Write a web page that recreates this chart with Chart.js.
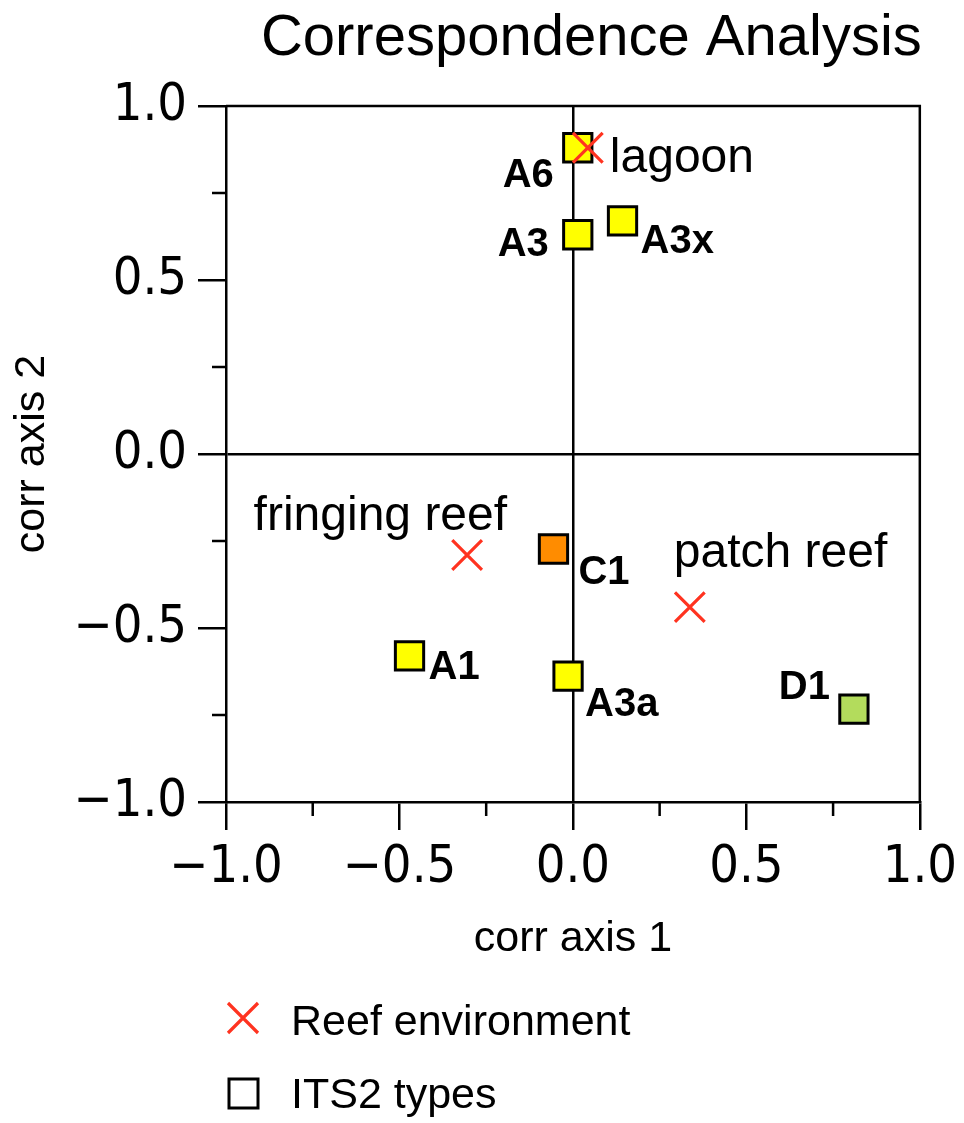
<!DOCTYPE html>
<html><head><meta charset="utf-8">
<script src="https://cdn.jsdelivr.net/npm/chart.js@4/dist/chart.umd.min.js"></script>
<style>html,body{margin:0;padding:0;background:#fff}#wrap{width:964px;height:1123px;position:relative}</style>
</head><body><div id="wrap"><canvas id="c"></canvas></div>
<script>
// ---- data ----
const chartTitle = 'Correspondence Analysis';
const xAxisTitle = 'corr axis 1';
const yAxisTitle = 'corr axis 2';
const tickValues = [-1.0, -0.5, 0.0, 0.5, 1.0];
const minorTickValues = [-0.75, -0.25, 0.25, 0.75];
const itsNames = ['A6', 'A3', 'A3x', 'C1', 'A1', 'A3a', 'D1'];
const itsX = [0.014, 0.014, 0.143, -0.056, -0.471, -0.014, 0.81];
const itsY = [0.88, 0.63, 0.67, -0.273, -0.58, -0.638, -0.733];
const reefNames = ['lagoon', 'fringing reef', 'patch reef'];
const reefX = [0.043, -0.305, 0.337];
const reefY = [0.88, -0.29, -0.44];
const legendLabels = ['Reef environment', 'ITS2 types'];

// ---- styles ----
const itsColors = ['#ffff00', '#ffff00', '#ffff00', '#ff8c00', '#ffff00', '#ffff00', '#b3dc5c'];
const reefColor = '#ff3320';
const itsLabelPos = [
  {dx: -24, dy: 28, align: 'right'},
  {dx: -29, dy: 10, align: 'right'},
  {dx: 18, dy: 21, align: 'left'},
  {dx: 25, dy: 24, align: 'left'},
  {dx: 19, dy: 12, align: 'left'},
  {dx: 17, dy: 29, align: 'left'},
  {dx: -24, dy: -21, align: 'right'}
];
const reefLabelPos = [
  {dx: 22, dy: 24, align: 'left'},
  {dx: 40, dy: -25, align: 'right'},
  {dx: -16, dy: -40, align: 'left'}
];
const SANS = '"Liberation Sans", Arial, Helvetica, sans-serif';
const TICKFONT = '"DejaVu Sans Condensed", "DejaVu Sans", sans-serif';

function fmt(v) {
  if (Math.abs(v) < 1e-9) return '0.0';
  return (v < 0 ? '\u2212' : '') + Math.abs(v).toFixed(1);
}

const canvas = document.getElementById('c');
canvas.width = 964; canvas.height = 1123;

const decorPlugin = {
  id: 'decor',
  afterDraw(chart) {
    const ctx = chart.ctx;
    const ca = chart.chartArea;
    const xs = chart.scales.x, ys = chart.scales.y;
    ctx.save();
    // frame top and right
    ctx.strokeStyle = '#000'; ctx.lineWidth = 2.5;
    ctx.beginPath();
    ctx.moveTo(ca.left, ca.top); ctx.lineTo(ca.right, ca.top); ctx.lineTo(ca.right, ca.bottom);
    ctx.stroke();
    // minor ticks
    ctx.beginPath();
    minorTickValues.forEach(v => {
      const px = xs.getPixelForValue(v);
      ctx.moveTo(px, ca.bottom); ctx.lineTo(px, ca.bottom + 14);
      const py = ys.getPixelForValue(v);
      ctx.moveTo(ca.left, py); ctx.lineTo(ca.left - 14, py);
    });
    ctx.stroke();
    // title
    ctx.fillStyle = '#000';
    ctx.font = '58px ' + SANS;
    ctx.textAlign = 'right'; ctx.textBaseline = 'alphabetic';
    ctx.fillText(chartTitle, ca.right + 2, 55);
    // ITS2 labels
    const mIts = chart.getDatasetMeta(1);
    ctx.font = 'bold 40px ' + SANS;
    ctx.textBaseline = 'middle';
    mIts.data.forEach((pt, i) => {
      const p = itsLabelPos[i];
      ctx.textAlign = p.align;
      ctx.fillText(itsNames[i], pt.x + p.dx, pt.y + p.dy);
    });
    // reef labels
    const mReef = chart.getDatasetMeta(0);
    ctx.font = '48px ' + SANS;
    ctx.textBaseline = 'alphabetic';
    mReef.data.forEach((pt, i) => {
      const p = reefLabelPos[i];
      ctx.textAlign = p.align;
      ctx.fillText(reefNames[i], pt.x + p.dx, pt.y + p.dy);
    });
    // legend
    const lx = 243;
    ctx.strokeStyle = reefColor; ctx.lineWidth = 3.2;
    ctx.beginPath();
    ctx.moveTo(lx - 15, 1003); ctx.lineTo(lx + 15, 1033);
    ctx.moveTo(lx + 15, 1003); ctx.lineTo(lx - 15, 1033);
    ctx.stroke();
    ctx.strokeStyle = '#000'; ctx.lineWidth = 3;
    ctx.fillStyle = '#fff';
    ctx.fillRect(lx - 14, 1079, 29, 29);
    ctx.strokeRect(lx - 14, 1079, 29, 29);
    ctx.fillStyle = '#000';
    ctx.font = '43px ' + SANS;
    ctx.textAlign = 'left'; ctx.textBaseline = 'alphabetic';
    ctx.fillText(legendLabels[0], 291, 1035);
    ctx.fillText(legendLabels[1], 291, 1108);
    ctx.restore();
  }
};

function axisGrid() {
  return {
    drawOnChartArea: true,
    color: c => (c.tick && Math.abs(c.tick.value) < 1e-9) ? '#000' : 'rgba(0,0,0,0)',
    lineWidth: 2.5,
    tickLength: 28,
    tickColor: '#000',
    tickWidth: 2.5
  };
}

new Chart(canvas, {
  type: 'scatter',
  data: {
    datasets: [
      {
        label: legendLabels[0],
        data: reefX.map((x, i) => ({x: x, y: reefY[i]})),
        pointStyle: 'crossRot',
        pointRadius: 21,
        borderColor: reefColor,
        backgroundColor: reefColor,
        borderWidth: 3.2,
        order: 0
      },
      {
        label: legendLabels[1],
        data: itsX.map((x, i) => ({x: x, y: itsY[i]})),
        pointStyle: 'rect',
        pointRadius: 20,
        backgroundColor: itsColors,
        borderColor: '#000',
        borderWidth: 3,
        order: 1
      }
    ]
  },
  options: {
    responsive: false,
    animation: false,
    events: [],
    layout: {padding: {left: 0, top: 106, right: 43, bottom: 141}},
    plugins: {legend: {display: false}, title: {display: false}, tooltip: {enabled: false}},
    scales: {
      x: {
        type: 'linear', min: -1, max: 1,
        afterBuildTicks: s => { s.ticks = tickValues.map(v => ({value: v})); },
        afterFit: s => { s.height = 180; },
        ticks: {callback: v => fmt(v), font: {family: TICKFONT, size: 52}, color: '#000', padding: 7, maxRotation: 0, autoSkip: false},
        grid: axisGrid(),
        border: {display: true, color: '#000', width: 2.5},
        title: {display: true, text: xAxisTitle, color: '#000', font: {family: SANS, size: 43}, padding: {top: 0, bottom: 17}}
      },
      y: {
        type: 'linear', min: -1, max: 1,
        afterBuildTicks: s => { s.ticks = tickValues.map(v => ({value: v})); },
        afterFit: s => { s.width = 226; },
        ticks: {callback: v => fmt(v), font: {family: TICKFONT, size: 52}, color: '#000', padding: 11, autoSkip: false},
        grid: axisGrid(),
        border: {display: true, color: '#000', width: 2.5},
        title: {display: true, text: yAxisTitle, color: '#000', font: {family: SANS, size: 43}, padding: {top: 6, bottom: 0}}
      }
    }
  },
  plugins: [decorPlugin]
});
</script>
</body></html>
